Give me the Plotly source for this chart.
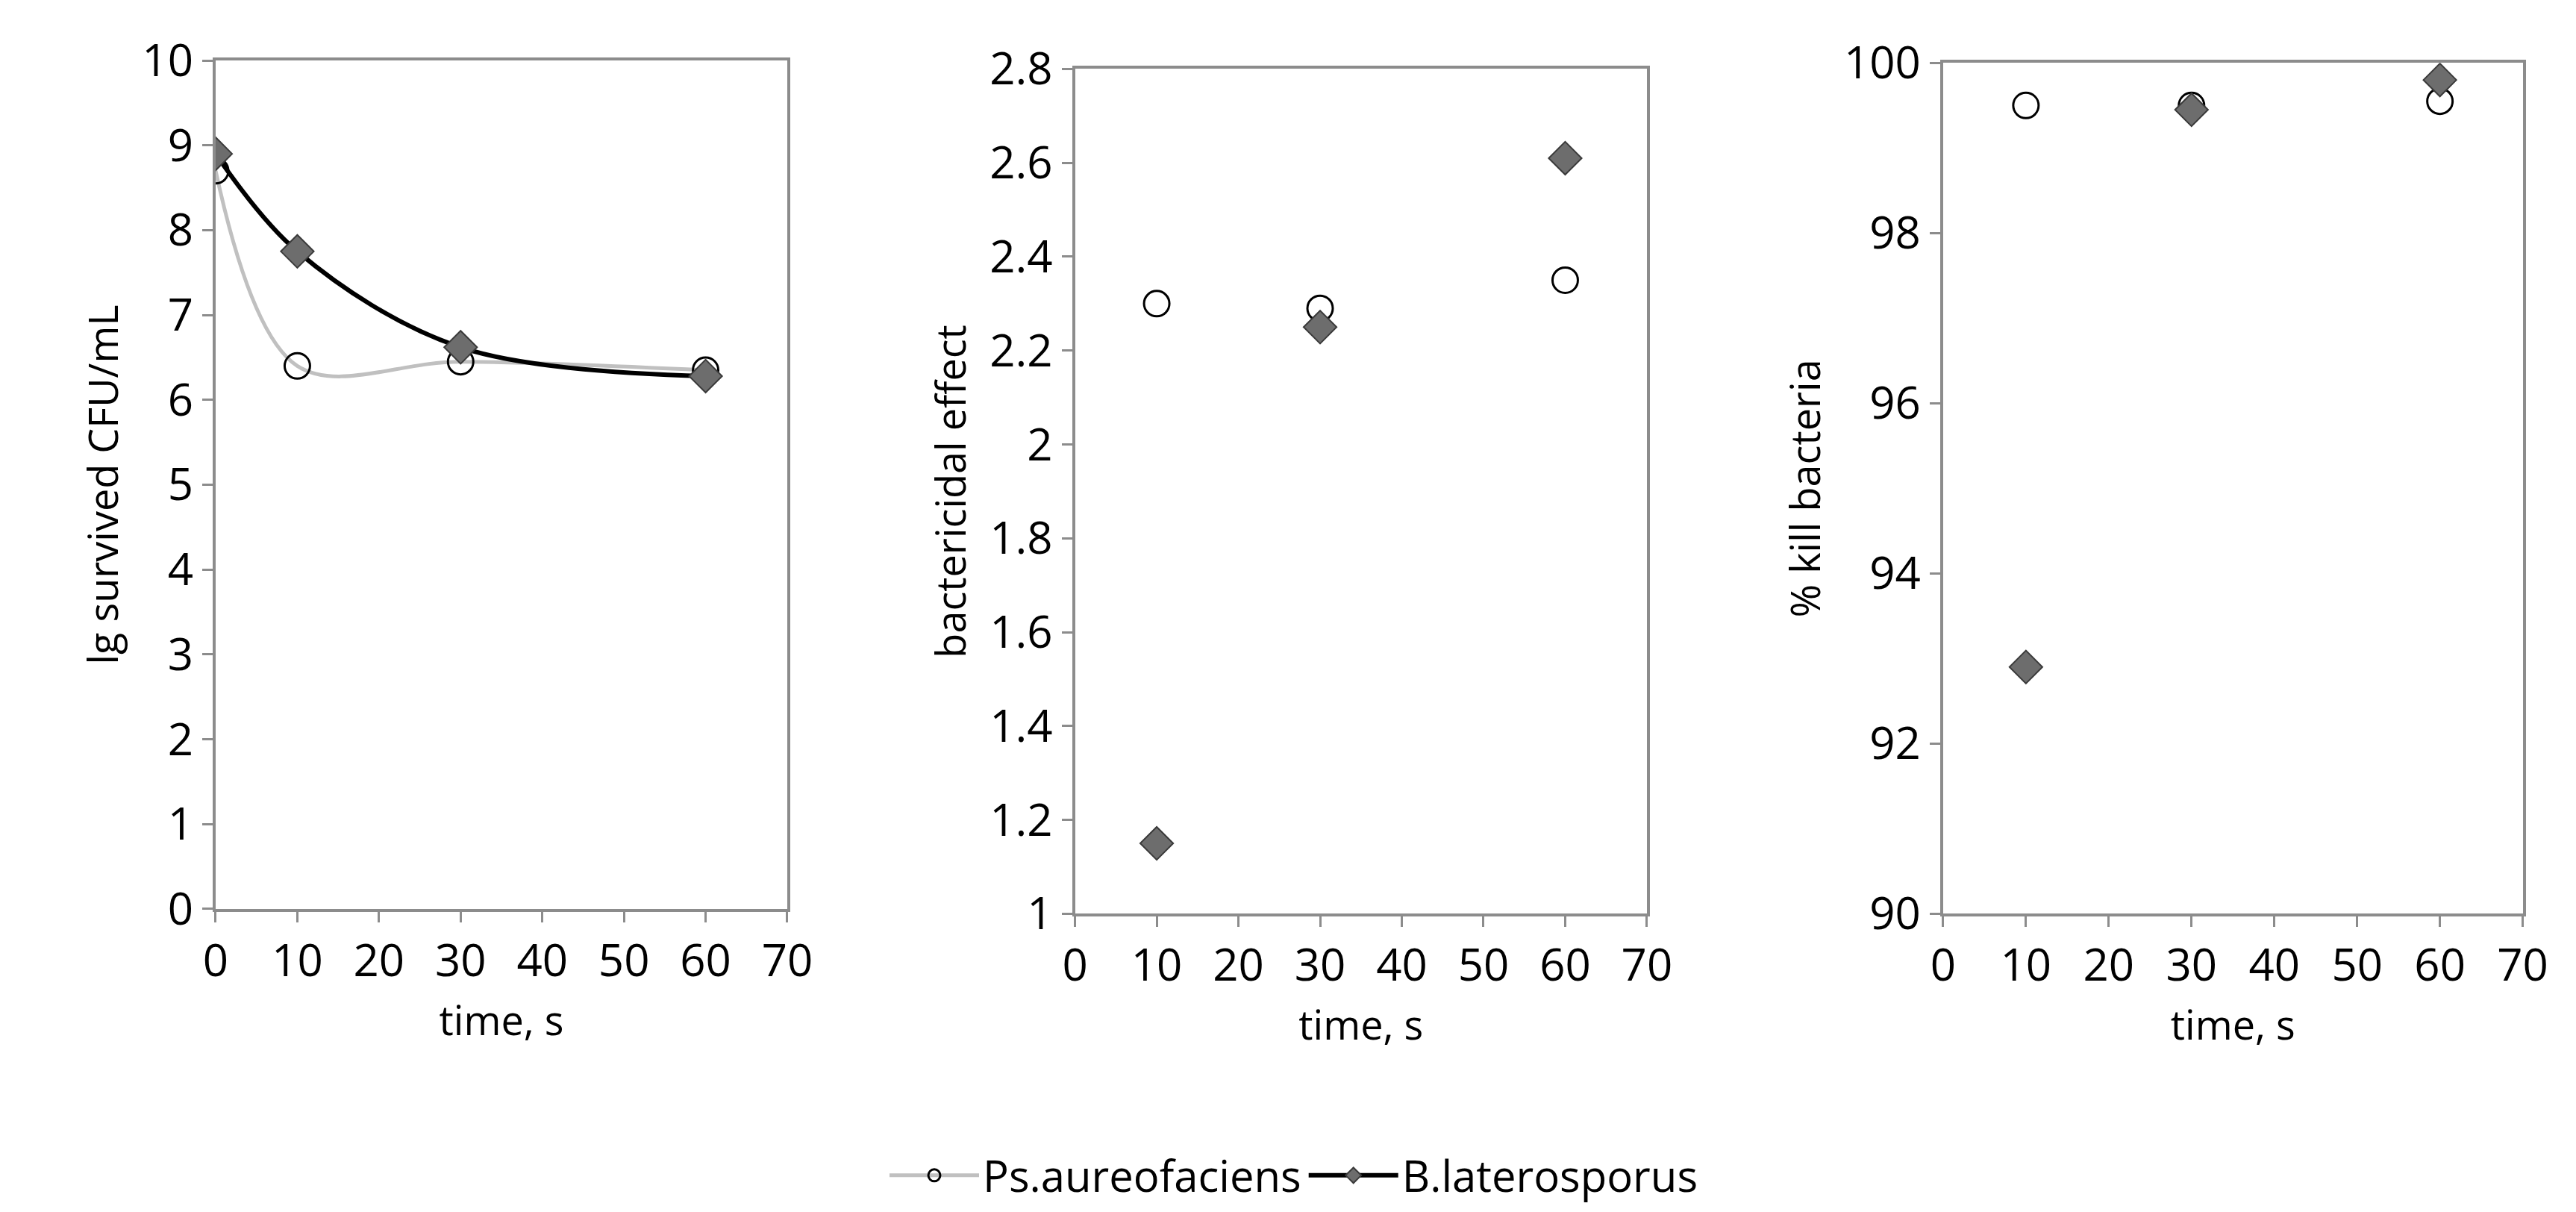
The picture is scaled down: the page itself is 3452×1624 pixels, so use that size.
import plotly.graph_objects as go

time_lg = [0, 10, 30, 60]
lg_ps = [8.7, 6.4, 6.45, 6.35]
lg_bl = [8.9, 7.75, 6.62, 6.28]

time_fx = [10, 30, 60]
eff_ps = [2.30, 2.29, 2.35]
eff_bl = [1.15, 2.25, 2.61]
kill_ps = [99.5, 99.5, 99.55]
kill_bl = [92.9, 99.45, 99.8]

names = ["Ps.aureofaciens", "B.laterosporus"]

FONT = "Open Sans"
circle = dict(symbol="circle-open", size=34, color="#000000", line=dict(width=3))
diamond = dict(symbol="diamond", size=34, color="#6d6d6d", line=dict(width=2, color="#3a3a3a"))

fig = go.Figure()
# panel 1: smoothed lines
fig.add_trace(go.Scatter(x=time_lg, y=lg_ps, mode="lines+markers", name=names[0],
                         line=dict(color="#c0c0c0", width=5, shape="spline"),
                         marker=circle, xaxis="x", yaxis="y"))
fig.add_trace(go.Scatter(x=time_lg, y=lg_bl, mode="lines+markers", name=names[1],
                         line=dict(color="#000000", width=6, shape="spline"),
                         marker=diamond, xaxis="x", yaxis="y"))
# panel 2 and 3: markers only
for ys, xa, ya in [((eff_ps, eff_bl), "x2", "y2"), ((kill_ps, kill_bl), "x3", "y3")]:
    fig.add_trace(go.Scatter(x=time_fx, y=ys[0], mode="markers", marker=circle,
                             showlegend=False, xaxis=xa, yaxis=ya))
    fig.add_trace(go.Scatter(x=time_fx, y=ys[1], mode="markers", marker=diamond,
                             showlegend=False, xaxis=xa, yaxis=ya))

ax = dict(showgrid=False, zeroline=False, showline=True, linecolor="#8c8c8c", linewidth=4,
          mirror=True, ticks="outside", ticklen=14, tickwidth=3, tickcolor="#8c8c8c",
          tickfont=dict(size=60, color="#000000"), automargin=False)
xt = dict(title=dict(text="time, s", font=dict(size=54), standoff=25),
          range=[0, 70], dtick=10, **ax)

fig.update_layout(
    width=3452, height=1624, plot_bgcolor="white", paper_bgcolor="white",
    margin=dict(l=0, r=0, t=0, b=0, autoexpand=False),
    font=dict(family=FONT, color="#000000"),
    xaxis=dict(domain=[0.0814, 0.3033], anchor="y", **xt),
    yaxis=dict(domain=[0.255, 0.955], anchor="x", range=[0, 10], dtick=1,
               title=dict(text="lg survived CFU/mL", font=dict(size=54)), **ax),
    xaxis2=dict(domain=[0.415, 0.637], anchor="y2", **xt),
    yaxis2=dict(domain=[0.251, 0.948], anchor="x2", range=[1, 2.8], dtick=0.2,
                tickformat="~g",
                title=dict(text="bactericidal effect", font=dict(size=54)), **ax),
    xaxis3=dict(domain=[0.752, 0.977], anchor="y3", **xt),
    yaxis3=dict(domain=[0.251, 0.953], anchor="x3", range=[90, 100], dtick=2,
                title=dict(text="% kill bacteria", font=dict(size=54)), **ax),
    legend=dict(orientation="h", x=0.5, xanchor="center", y=0.035, yanchor="middle",
                font=dict(size=58), itemwidth=120),
)

fig.write_html("out.html")
